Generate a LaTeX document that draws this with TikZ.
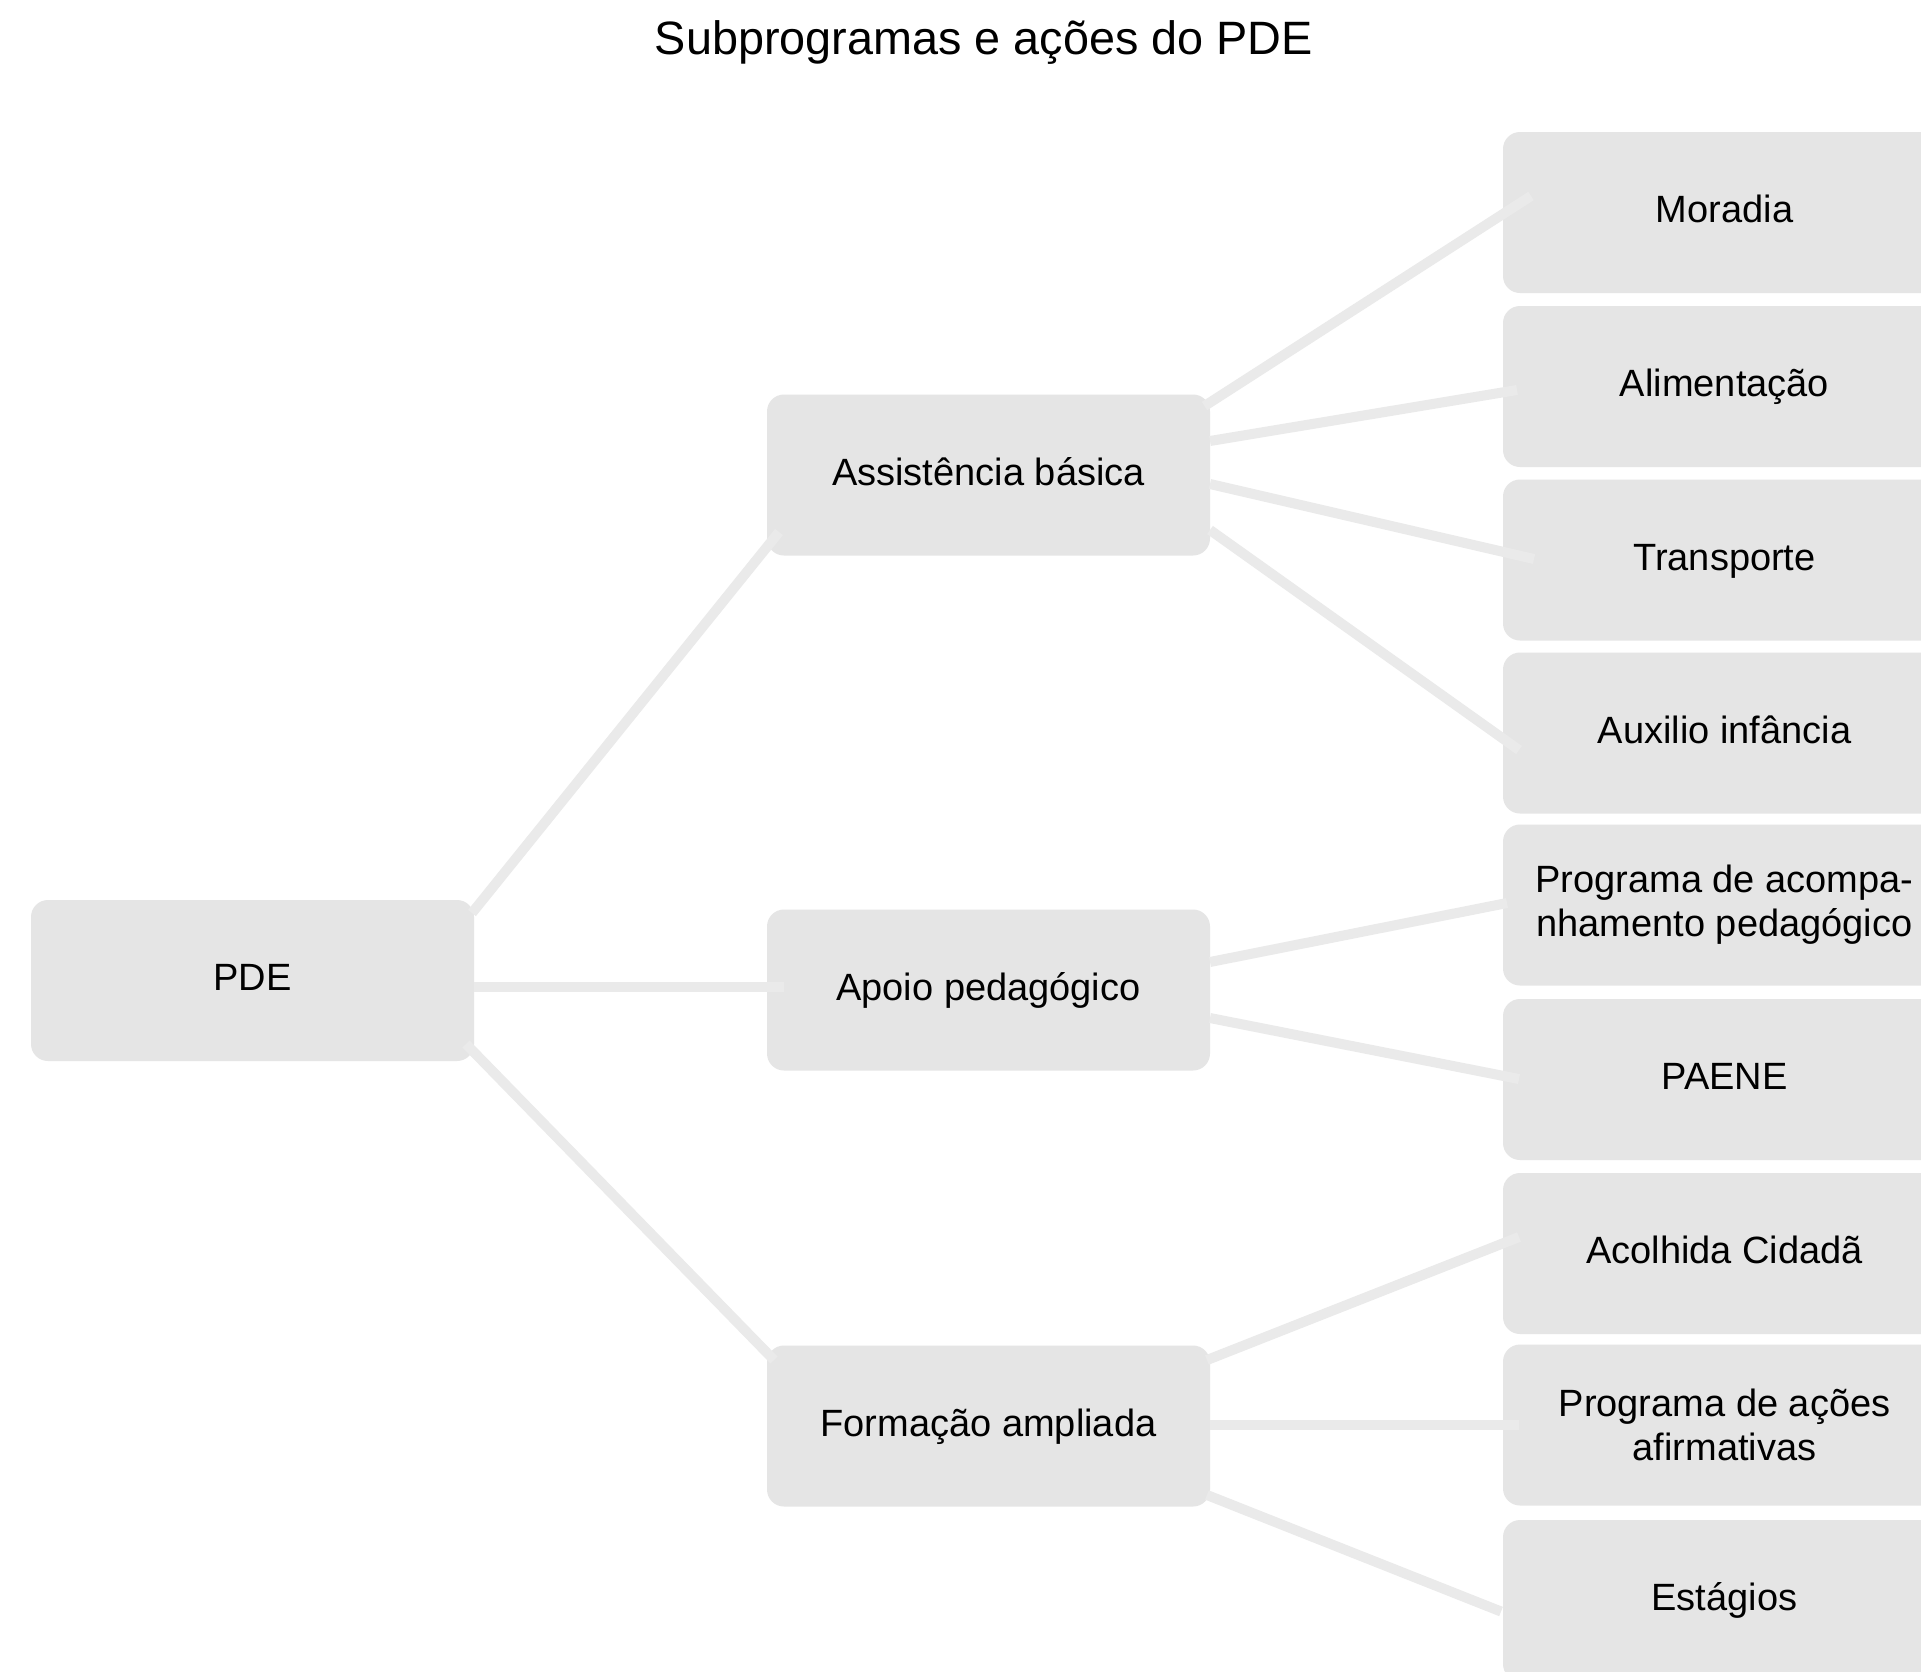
\documentclass[tikz,border=0pt]{standalone}
\usepackage{fontspec}
\setmainfont{Liberation Sans}
\usetikzlibrary{calc}
\definecolor{boxgray}{HTML}{E5E5E5}
\definecolor{linegray}{HTML}{EAEAEA}
\tikzset{
  box/.style={rectangle, rounded corners=8.5pt, fill=boxgray, draw=none,
    minimum width=221.5pt, minimum height=80.5pt, inner sep=0pt,
    align=center, font=\fontsize{19}{22}\selectfont, text=black},
  onebox/.style={box, text height=14pt, text depth=4pt},
  link/.style={draw=linegray, line width=5pt, line cap=butt},
}
\begin{document}
\begin{tikzpicture}[x=0.5pt,y=-0.5pt]
\clip (0,0) rectangle (1921,1671);
\fill[white] (0,0) rectangle (1921,1671);
\node[font=\fontsize{23.4}{28}\selectfont] (title) at (984,43) {Subprogramas e ações do PDE};
% nodes
\node[onebox] (pde) at (252.5,980.5) {PDE};
\node[onebox] (assist) at (988.5,475) {Assistência básica};
\node[onebox] (apoio) at (988.5,990) {Apoio pedagógico};
\node[onebox] (form) at (988.5,1426) {Formação ampliada};
\node[onebox] (moradia) at (1724.5,212.5) {Moradia};
\node[onebox] (alim) at (1724.5,386.5) {Alimentação};
\node[onebox] (transp) at (1724.5,560) {Transporte};
\node[onebox] (aux) at (1724.5,733) {Auxilio infância};
\node[box] (prog) at (1724.5,905) {Programa de acompa-\\nhamento pedagógico};
\node[onebox] (paene) at (1724.5,1079.5) {PAENE};
\node[onebox] (acolhida) at (1724.5,1253.5) {Acolhida Cidadã};
\node[box] (progacoes) at (1724.5,1425) {Programa de ações\\afirmativas};
\node[onebox] (estagios) at (1724.5,1600.5) {Estágios};
% connectors
\draw[link] ($(pde)+(219.5,-67.5)$) -- ($(assist)+(-209.5,57)$);
\draw[link] ($(pde)+(221.5,6.5)$) -- ($(apoio)+(-204.5,-3)$);
\draw[link] ($(pde)+(213.5,63.5)$) -- ($(form)+(-214.5,-66)$);
\draw[link] ($(assist)+(216,-69)$) -- ($(moradia)+(-193.5,-16.5)$);
\draw[link] ($(assist)+(221.5,-34)$) -- ($(alim)+(-207.5,3.5)$);
\draw[link] ($(assist)+(221.5,9)$) -- ($(transp)+(-190.5,-1)$);
\draw[link] ($(assist)+(221.5,55)$) -- ($(aux)+(-205.5,17)$);
\draw[link] ($(apoio)+(221.5,-28)$) -- ($(prog)+(-217.5,-2)$);
\draw[link] ($(apoio)+(221.5,28)$) -- ($(paene)+(-205.5,-0.5)$);
\draw[link] ($(form)+(218.5,-66)$) -- ($(acolhida)+(-205.5,-16.5)$);
\draw[link] ($(form)+(221.5,-1)$) -- ($(progacoes)+(-205.5,0)$);
\draw[link] ($(form)+(218.5,69)$) -- ($(estagios)+(-223.5,11)$);
\end{tikzpicture}
\end{document}
